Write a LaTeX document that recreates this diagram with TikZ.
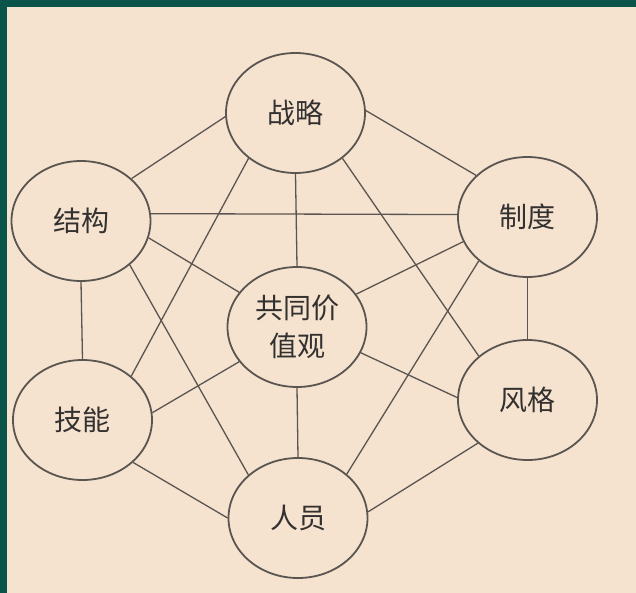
\documentclass[tikz,border=0pt]{standalone}
\usepackage{fontspec}
\newfontfamily\cjk{Noto Sans CJK SC}
\usetikzlibrary{shapes.geometric}
\definecolor{bg}{HTML}{F5E3CF}
\definecolor{frame}{HTML}{0B5449}
\definecolor{ink}{HTML}{5A5550}
\definecolor{txt}{HTML}{333030}
\begin{document}
\begin{tikzpicture}[x=1pt,y=-1pt,
  elem/.style={ellipse, draw=ink, line width=1.8pt, minimum width=139pt, minimum height=120pt, inner sep=0pt, font=\cjk\fontsize{28}{38}\selectfont, text=txt, align=center},
  link/.style={draw=ink, line width=1.3pt}]
\fill[bg] (0,0) rectangle (636,593);
\fill[frame] (0,0) rectangle (636,7);
\fill[frame] (0,0) rectangle (7,593);
\useasboundingbox (0,0) rectangle (636,593);

\node[elem] (zl) at (295.5,113) {战略};
\node[elem] (jg) at (81,221) {结构};
\node[elem] (zd) at (527.5,217) {制度};
\node[elem] (gt) at (297,327) {共同价\\值观};
\node[elem] (jn) at (82.5,420) {技能};
\node[elem] (fg) at (527.5,400) {风格};
\node[elem] (ry) at (298,518) {人员};

\draw[link] (zl.183) -- (jg.40);
\draw[link] (zl.2) -- (zd.141);
\draw[link] (zl.270) -- (gt.90);
\draw[link] (zl.224) -- (jn.42);
\draw[link] (zl.316) -- (fg.138);
\draw[link] (jg.6) -- (zd.178);
\draw[link] (jg.346) -- (gt.149);
\draw[link] (jg.318) -- (ry.139);
\draw[link] (jg.270) -- (jn.90);
\draw[link] (zd.201) -- (gt.29.5);
\draw[link] (zd.222) -- (ry.42.6);
\draw[link] (zd.270) -- (fg.90);
\draw[link] (jn.6) -- (gt.211);
\draw[link] (jn.320) -- (ry.180);
\draw[link] (fg.178) -- (gt.338);
\draw[link] (fg.221) -- (ry.5);
\draw[link] (gt.270) -- (ry.90);
\end{tikzpicture}
\end{document}
